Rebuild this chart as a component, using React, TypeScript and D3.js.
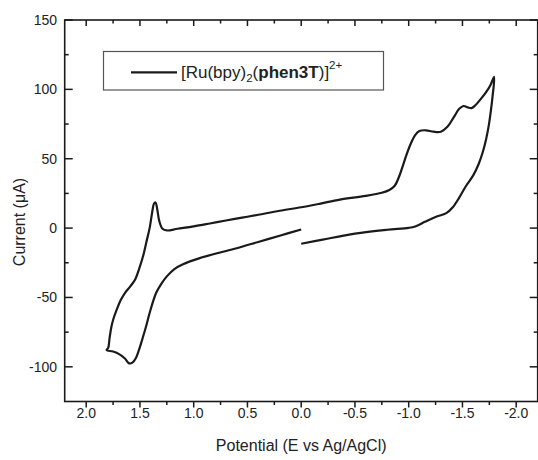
import React from "react";
import * as d3 from "d3";

// Potential (V) and current (µA), one continuous sweep
const potential: number[] = [
  0.0, -0.2, -0.5, -0.8, -1.0, -1.06, -1.15, -1.25, -1.35, -1.41, -1.47, -1.53, -1.6, -1.65, -1.69, -1.72, -1.745, -1.765, -1.78, -1.795,
  -1.76, -1.72, -1.67, -1.62, -1.585, -1.55, -1.51, -1.47, -1.42, -1.36, -1.3, -1.23, -1.16, -1.1, -1.06, -1.02, -0.98, -0.95, -0.91, -0.87, -0.82, -0.75, -0.6, -0.36, -0.17, 0.0, 0.2, 0.4, 0.55, 0.7, 0.85, 1.0, 1.15, 1.25, 1.29, 1.32, 1.34, 1.355, 1.37, 1.385, 1.41, 1.44, 1.47, 1.5, 1.546, 1.59, 1.64, 1.68, 1.716, 1.745, 1.765, 1.782, 1.795, 1.81,
  1.75, 1.69, 1.64, 1.6, 1.57, 1.54, 1.51, 1.47, 1.44, 1.41, 1.35, 1.3, 1.25, 1.18, 1.1, 0.95, 0.8, 0.6, 0.4, 0.2, 0.0,
];
const current: number[] = [
  -11.3, -8.3, -4.0, -1.2, 0.2, 1.2, 4.5, 8.0, 10.8, 15, 22, 30, 38, 46, 55, 64, 74, 85, 95, 109,
  103, 98, 93, 88.5, 86.5, 87, 88, 86, 80, 73, 69.5, 69.5, 70.5, 70, 67, 61, 53, 46, 37, 30.5, 27.5, 25.5, 23.2, 20.5, 17.5, 15, 12.5, 9.6, 7.5, 5.5, 3.3, 1.2, -0.5, -1.7, -0.5, 5, 14, 18.5, 17.5, 12, 0, -10, -20, -27.6, -37.2, -42, -46.8, -52, -58.8, -65, -71, -79, -86.3, -88,
  -89, -91, -94, -97.5, -97, -94, -88, -78, -70, -61.2, -46.8, -40, -34.8, -29.5, -26, -21.8, -18.5, -14.5, -10, -5.5, -1.0,
];

const xTicks: number[] = [2.0, 1.5, 1.0, 0.5, 0.0, -0.5, -1.0, -1.5, -2.0];
const xMinorTicks: number[] = [1.75, 1.25, 0.75, 0.25, -0.25, -0.75, -1.25, -1.75];
const yTicks: number[] = [150, 100, 50, 0, -50, -100];
const yMinorTicks: number[] = [125, 75, 25, -25, -75];

const W = 538;
const H = 460;
const left = 64.7;
const right = 537.7;
const top = 20;
const bottom = 401.5;
const font = "'Liberation Sans', Arial, sans-serif";

export default function App() {
  const x = d3.scaleLinear().domain([2.2, -2.2]).range([left, right]);
  const y = d3.scaleLinear().domain([-125, 150]).range([bottom, top]);
  const pts: [number, number][] = potential.map((v, i) => [v, current[i]]);
  const line = d3
    .line<[number, number]>()
    .x((d) => x(d[0]))
    .y((d) => y(d[1]))
    .curve(d3.curveCatmullRom.alpha(0.5));

  const fmtX = (v: number) => (v === 0 ? "0.0" : d3.format(".1f")(v).replace("−", "-"));

  return (
    <svg width={W} height={H} style={{ position: "absolute", left: 0, top: 0, background: "#fff" }}>
      <rect x={0} y={0} width={W} height={H} fill="#fff" />
      {/* curve */}
      <path d={line(pts) || ""} fill="none" stroke="#1a1a1a" strokeWidth={2.2} strokeLinejoin="round" />

      {/* frame */}
      <rect x={left} y={top} width={right - left} height={bottom - top} fill="none" stroke="#1a1a1a" strokeWidth={1.6} />

      {/* x ticks bottom (outward) and top (inward) */}
      {xTicks.map((t) => (
        <g key={"xt" + t}>
          <line x1={x(t)} x2={x(t)} y1={bottom} y2={bottom + 6} stroke="#1a1a1a" strokeWidth={1.5} />
          <line x1={x(t)} x2={x(t)} y1={top} y2={top + 6} stroke="#1a1a1a" strokeWidth={1.5} />
          <text x={x(t)} y={418} textAnchor="middle" fontFamily={font} fontSize={14} fill="#222">
            {fmtX(t)}
          </text>
        </g>
      ))}
      {xMinorTicks.map((t) => (
        <g key={"xm" + t}>
          <line x1={x(t)} x2={x(t)} y1={bottom} y2={bottom + 3.5} stroke="#1a1a1a" strokeWidth={1.5} />
          <line x1={x(t)} x2={x(t)} y1={top} y2={top + 3.5} stroke="#1a1a1a" strokeWidth={1.5} />
        </g>
      ))}

      {/* y ticks inward on both sides */}
      {yTicks.map((t) => (
        <g key={"yt" + t}>
          <line x1={left} x2={left + 8} y1={y(t)} y2={y(t)} stroke="#1a1a1a" strokeWidth={1.5} />
          <line x1={right} x2={right - 8} y1={y(t)} y2={y(t)} stroke="#1a1a1a" strokeWidth={1.5} />
          <text x={57} y={y(t)} dy="0.35em" textAnchor="end" fontFamily={font} fontSize={14} fill="#222">
            {String(t)}
          </text>
        </g>
      ))}
      {yMinorTicks.map((t) => (
        <g key={"ym" + t}>
          <line x1={left} x2={left + 4} y1={y(t)} y2={y(t)} stroke="#1a1a1a" strokeWidth={1.5} />
          <line x1={right} x2={right - 4} y1={y(t)} y2={y(t)} stroke="#1a1a1a" strokeWidth={1.5} />
        </g>
      ))}

      {/* axis titles */}
      <text x={x(0)} y={451} textAnchor="middle" fontFamily={font} fontSize={16} fill="#222">
        Potential (E vs Ag/AgCl)
      </text>
      <text
        transform={`translate(25,222) rotate(-90)`}
        textAnchor="middle"
        fontFamily={font}
        fontSize={16}
        fill="#222"
      >
        Current (μA)
      </text>

      {/* legend */}
      <rect x={103.5} y={51.5} width={280} height={38.5} fill="#fff" stroke="#555" strokeWidth={1.2} />
      <line x1={131} x2={177} y1={72.3} y2={72.3} stroke="#1a1a1a" strokeWidth={2.2} />
      <text x={181} y={78} fontFamily={font} fontSize={17} fill="#222">
        <tspan>[Ru(bpy)</tspan>
        <tspan fontSize={11.5} dy={4}>2</tspan>
        <tspan dy={-4}>(</tspan>
        <tspan fontWeight="bold">phen3T</tspan>
        <tspan>)]</tspan>
        <tspan fontSize={11.5} dy={-9}>2+</tspan>
      </text>
    </svg>
  );
}
